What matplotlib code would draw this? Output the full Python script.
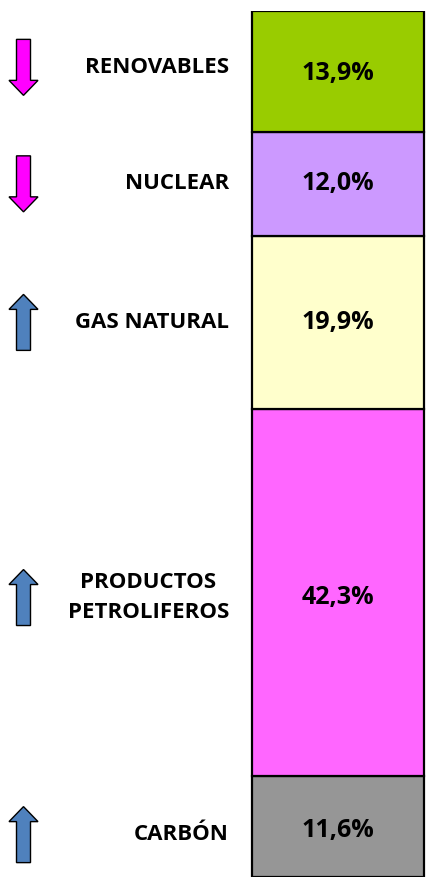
import matplotlib
matplotlib.use("Agg")
import matplotlib.pyplot as plt
from matplotlib.patches import Polygon
from matplotlib.transforms import Affine2D, offset_copy

# datos (de abajo hacia arriba)
fuentes = ["CARBÓN", "PRODUCTOS\nPETROLIFEROS", "GAS NATURAL", "NUCLEAR", "RENOVABLES"]
porcentajes = [11.6, 42.3, 19.9, 12.0, 13.9]
etiquetas = ["11,6%", "42,3%", "19,9%", "12,0%", "13,9%"]
tendencia = ["sube", "sube", "sube", "baja", "baja"]
colores = ["#969696", "#FF66FF", "#FFFFCC", "#CC99FF", "#99CC00"]

plt.rcParams['font.family'] = ['Open Sans', 'DejaVu Sans']

W, H = 428, 880
fig = plt.figure(figsize=(W / 100, H / 100), dpi=100)
total = sum(porcentajes)
ax = fig.add_axes([0, 3 / H, 1, 866 / H])
ax.set_xlim(0, W)
ax.set_ylim(0, total)
ax.axis("off")

base = 0
centros = []
for p, c in zip(porcentajes, colores):
    ax.bar(338, p, width=172, bottom=base, color=c, edgecolor="black", linewidth=1.6)
    centros.append(base + p / 2)
    base += p

# pequeños desplazamientos verticales (px)
desp_val = [-4, -5, 0, 0, -2]
desp_lab = [-8, -5, 0, 0, 4]

for fuente, lab, cy, dv, dl in zip(fuentes, etiquetas, centros, desp_val, desp_lab):
    ax.text(338, cy, lab, ha="center", va="center", fontsize=18, fontweight="bold",
            transform=offset_copy(ax.transData, fig, y=dv * 0.72, units="points"))
    ax.text(229, cy, fuente, ha="right", va="center", multialignment="center",
            fontsize=16, fontweight="bold", linespacing=1.55,
            transform=offset_copy(ax.transData, fig, y=dl * 0.72, units="points"))

# flechas en pixeles
flecha_baja = [(-7, 28), (7, 28), (7, -13), (14.5, -13), (0, -28), (-14.5, -13), (-7, -13)]
flecha_sube = [(x, -y) for x, y in flecha_baja]
for t, cy, dl in zip(tendencia, centros, desp_lab):
    px, py = ax.transData.transform((23.5, cy))
    if t == "baja":
        verts, col = flecha_baja, "#FF00FF"
    else:
        verts, col = flecha_sube, "#4F81BD"
    poly = Polygon(verts, closed=True, facecolor=col, edgecolor="black", linewidth=1,
                   transform=Affine2D().translate(px, py + dl), clip_on=False)
    fig.patches.append(poly)

fig.savefig("out.png", dpi=100)
